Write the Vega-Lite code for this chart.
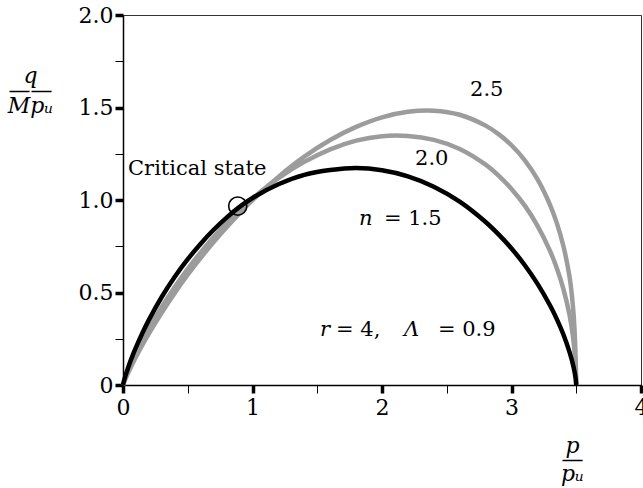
{
  "$schema": "https://vega.github.io/schema/vega-lite/v6.json",
  "width": 518,
  "height": 370,
  "autosize": {"type": "none"},
  "padding": {"left": 123, "top": 15, "right": 2, "bottom": 103},
  "background": "white",
  "config": {"view": {"stroke": "#333333", "strokeWidth": 1}},
  "datasets": {
    "curves": [
      {"n": "2.5", "p": 0, "q": 0}, {"n": "2.5", "p": 0.005, "q": 0.010}, {"n": "2.5", "p": 0.01, "q": 0.019}, {"n": "2.5", "p": 0.02, "q": 0.035}, {"n": "2.5", "p": 0.04, "q": 0.066}, {"n": "2.5", "p": 0.07, "q": 0.110}, {"n": "2.5", "p": 0.1, "q": 0.152}, {"n": "2.5", "p": 0.15, "q": 0.217}, {"n": "2.5", "p": 0.2, "q": 0.278}, {"n": "2.5", "p": 0.3, "q": 0.392}, {"n": "2.5", "p": 0.4, "q": 0.498}, {"n": "2.5", "p": 0.5, "q": 0.596}, {"n": "2.5", "p": 0.6, "q": 0.687}, {"n": "2.5", "p": 0.7, "q": 0.773}, {"n": "2.5", "p": 0.8, "q": 0.853}, {"n": "2.5", "p": 0.9, "q": 0.928}, {"n": "2.5", "p": 1.0, "q": 0.999}, {"n": "2.5", "p": 1.2, "q": 1.125}, {"n": "2.5", "p": 1.4, "q": 1.234}, {"n": "2.5", "p": 1.6, "q": 1.324}, {"n": "2.5", "p": 1.8, "q": 1.395}, {"n": "2.5", "p": 2.0, "q": 1.447}, {"n": "2.5", "p": 2.2, "q": 1.477}, {"n": "2.5", "p": 2.4, "q": 1.483}, {"n": "2.5", "p": 2.6, "q": 1.461}, {"n": "2.5", "p": 2.8, "q": 1.402}, {"n": "2.5", "p": 2.9, "q": 1.356}, {"n": "2.5", "p": 3.0, "q": 1.296}, {"n": "2.5", "p": 3.1, "q": 1.217}, {"n": "2.5", "p": 3.2, "q": 1.113}, {"n": "2.5", "p": 3.3, "q": 0.970}, {"n": "2.5", "p": 3.35, "q": 0.875}, {"n": "2.5", "p": 3.4, "q": 0.753}, {"n": "2.5", "p": 3.45, "q": 0.577}, {"n": "2.5", "p": 3.475, "q": 0.42}, {"n": "2.5", "p": 3.49, "q": 0.25}, {"n": "2.5", "p": 3.5, "q": 0},
      {"n": "2.0", "p": 0, "q": 0}, {"n": "2.0", "p": 0.005, "q": 0.012}, {"n": "2.0", "p": 0.01, "q": 0.022}, {"n": "2.0", "p": 0.02, "q": 0.041}, {"n": "2.0", "p": 0.04, "q": 0.076}, {"n": "2.0", "p": 0.07, "q": 0.125}, {"n": "2.0", "p": 0.1, "q": 0.170}, {"n": "2.0", "p": 0.15, "q": 0.240}, {"n": "2.0", "p": 0.2, "q": 0.305}, {"n": "2.0", "p": 0.3, "q": 0.423}, {"n": "2.0", "p": 0.4, "q": 0.530}, {"n": "2.0", "p": 0.5, "q": 0.628}, {"n": "2.0", "p": 0.6, "q": 0.717}, {"n": "2.0", "p": 0.7, "q": 0.800}, {"n": "2.0", "p": 0.8, "q": 0.875}, {"n": "2.0", "p": 0.9, "q": 0.944}, {"n": "2.0", "p": 1.0, "q": 1.008}, {"n": "2.0", "p": 1.2, "q": 1.118}, {"n": "2.0", "p": 1.4, "q": 1.206}, {"n": "2.0", "p": 1.6, "q": 1.274}, {"n": "2.0", "p": 1.8, "q": 1.321}, {"n": "2.0", "p": 2.0, "q": 1.345}, {"n": "2.0", "p": 2.2, "q": 1.346}, {"n": "2.0", "p": 2.4, "q": 1.325}, {"n": "2.0", "p": 2.6, "q": 1.276}, {"n": "2.0", "p": 2.8, "q": 1.191}, {"n": "2.0", "p": 2.9, "q": 1.132}, {"n": "2.0", "p": 3.0, "q": 1.060}, {"n": "2.0", "p": 3.1, "q": 0.972}, {"n": "2.0", "p": 3.2, "q": 0.862}, {"n": "2.0", "p": 3.3, "q": 0.721}, {"n": "2.0", "p": 3.35, "q": 0.631}, {"n": "2.0", "p": 3.4, "q": 0.521}, {"n": "2.0", "p": 3.45, "q": 0.373}, {"n": "2.0", "p": 3.475, "q": 0.26}, {"n": "2.0", "p": 3.49, "q": 0.15}, {"n": "2.0", "p": 3.5, "q": 0},
      {"n": "1.5", "p": 0, "q": 0}, {"n": "1.5", "p": 0.005, "q": 0.015}, {"n": "1.5", "p": 0.01, "q": 0.028}, {"n": "1.5", "p": 0.02, "q": 0.052}, {"n": "1.5", "p": 0.04, "q": 0.095}, {"n": "1.5", "p": 0.07, "q": 0.152}, {"n": "1.5", "p": 0.1, "q": 0.203}, {"n": "1.5", "p": 0.15, "q": 0.281}, {"n": "1.5", "p": 0.2, "q": 0.352}, {"n": "1.5", "p": 0.3, "q": 0.477}, {"n": "1.5", "p": 0.4, "q": 0.585}, {"n": "1.5", "p": 0.5, "q": 0.680}, {"n": "1.5", "p": 0.6, "q": 0.764}, {"n": "1.5", "p": 0.7, "q": 0.839}, {"n": "1.5", "p": 0.8, "q": 0.905}, {"n": "1.5", "p": 0.9, "q": 0.963}, {"n": "1.5", "p": 1.0, "q": 1.011}, {"n": "1.5", "p": 1.2, "q": 1.085}, {"n": "1.5", "p": 1.4, "q": 1.136}, {"n": "1.5", "p": 1.6, "q": 1.162}, {"n": "1.5", "p": 1.8, "q": 1.173}, {"n": "1.5", "p": 2.0, "q": 1.161}, {"n": "1.5", "p": 2.2, "q": 1.128}, {"n": "1.5", "p": 2.4, "q": 1.072}, {"n": "1.5", "p": 2.6, "q": 0.991}, {"n": "1.5", "p": 2.8, "q": 0.881}, {"n": "1.5", "p": 2.9, "q": 0.814}, {"n": "1.5", "p": 3.0, "q": 0.738}, {"n": "1.5", "p": 3.1, "q": 0.650}, {"n": "1.5", "p": 3.2, "q": 0.548}, {"n": "1.5", "p": 3.3, "q": 0.427}, {"n": "1.5", "p": 3.35, "q": 0.356}, {"n": "1.5", "p": 3.4, "q": 0.274}, {"n": "1.5", "p": 3.45, "q": 0.174}, {"n": "1.5", "p": 3.48, "q": 0.095}, {"n": "1.5", "p": 3.495, "q": 0.038}, {"n": "1.5", "p": 3.5, "q": 0}
    ],
    "critical": [{"label": "Critical state", "p": 0.886, "q": 0.967}],
    "roman": [
      {"label": "Critical state", "p": 0.039, "q": 1.134},
      {"label": "2.5", "p": 2.68, "q": 1.56},
      {"label": "2.0", "p": 2.255, "q": 1.188},
      {"label": "= 1.5", "p": 2.015, "q": 0.863},
      {"label": "= 4,", "p": 1.645, "q": 0.264},
      {"label": "= 0.9", "p": 2.432, "q": 0.264}
    ],
    "italic": [
      {"label": "n", "p": 1.822, "q": 0.863},
      {"label": "r", "p": 1.521, "q": 0.264},
      {"label": "Λ", "p": 2.17, "q": 0.264}
    ]
  },
  "encoding": {
    "x": {
      "field": "p", "type": "quantitative",
      "scale": {"domain": [0, 4], "nice": false, "zero": false},
      "axis": {
        "values": [0, 0.5, 1, 1.5, 2, 2.5, 3, 3.5, 4],
        "labelExpr": "datum.value % 1 == 0 ? format(datum.value, 'd') : ''",
        "tickWidth": {"condition": {"test": "datum.value % 1 == 0", "value": 3.5}, "value": 1},
        "tickSize": 8,
        "tickColor": "black",
        "domainColor": "black",
        "domainWidth": 1.5,
        "grid": false,
        "labelFont": "DejaVu Serif",
        "labelFontSize": 22,
        "labelColor": "black",
        "labelPadding": 4,
        "labelFlush": false,
        "labelOverlap": false,
        "title": ["p", "—", "pᵤ"],
        "titleFont": "DejaVu Serif",
        "titleFontStyle": "italic",
        "titleFontWeight": "normal",
        "titleFontSize": 22,
        "titleColor": "black",
        "titleAngle": 0,
        "titleAlign": "center",
        "titleBaseline": "middle",
        "titleLineHeight": 14,
        "titleX": 449,
        "titleY": 60
      }
    },
    "y": {
      "field": "q", "type": "quantitative",
      "scale": {"domain": [0, 2], "nice": false},
      "axis": {
        "values": [0, 0.25, 0.5, 0.75, 1, 1.25, 1.5, 1.75, 2],
        "labelExpr": "datum.value % 0.5 == 0 ? (datum.value == 0 ? '0' : format(datum.value, '.1f')) : ''",
        "tickWidth": {"condition": {"test": "datum.value % 0.5 == 0", "value": 3.5}, "value": 1},
        "tickSize": 8,
        "tickColor": "black",
        "domainColor": "black",
        "domainWidth": 1.5,
        "grid": false,
        "labelFont": "DejaVu Serif",
        "labelFontSize": 22,
        "labelColor": "black",
        "labelPadding": 2,
        "labelOverlap": false,
        "title": ["q", "——", "Mpᵤ"],
        "titleFont": "DejaVu Serif",
        "titleFontStyle": "italic",
        "titleFontWeight": "normal",
        "titleFontSize": 22,
        "titleColor": "black",
        "titleAngle": 0,
        "titleAlign": "center",
        "titleBaseline": "middle",
        "titleLineHeight": 15,
        "titleX": -93,
        "titleY": 60
      }
    }
  },
  "layer": [
    {
      "data": {"name": "curves"},
      "transform": [{"filter": "datum.n != '1.5'"}],
      "mark": {"type": "line", "color": "#9c9c9c", "strokeWidth": 4.5, "interpolate": "catmull-rom"},
      "encoding": {"detail": {"field": "n"}}
    },
    {
      "data": {"name": "curves"},
      "transform": [{"filter": "datum.n == '1.5'"}],
      "mark": {"type": "line", "color": "black", "strokeWidth": 4.5, "interpolate": "catmull-rom"},
      "encoding": {}
    },
    {
      "data": {"name": "critical"},
      "mark": {"type": "point", "shape": "circle", "filled": false, "size": 330, "stroke": "black", "strokeWidth": 1.6, "opacity": 1},
      "encoding": {}
    },
    {
      "data": {"name": "roman"},
      "mark": {"type": "text", "font": "DejaVu Serif", "fontSize": 21, "align": "left", "baseline": "alphabetic", "color": "black"},
      "encoding": {"text": {"field": "label"}}
    },
    {
      "data": {"name": "italic"},
      "mark": {"type": "text", "font": "DejaVu Serif", "fontStyle": "italic", "fontSize": 21, "align": "left", "baseline": "alphabetic", "color": "black"},
      "encoding": {"text": {"field": "label"}}
    }
  ]
}
